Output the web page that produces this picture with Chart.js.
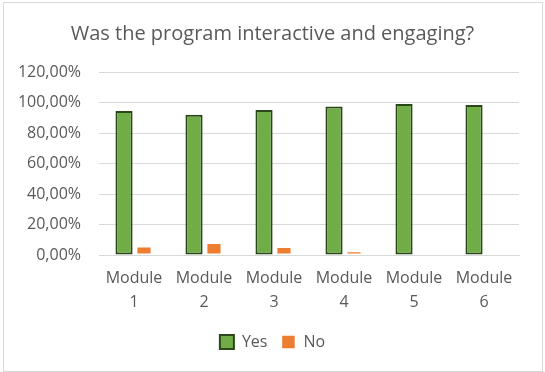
<!DOCTYPE html>
<html>
<head>
<meta charset="utf-8">
<script src="https://cdn.jsdelivr.net/npm/chart.js@4"></script>
<style>
  html, body { margin: 0; padding: 0; background: #fff; }
  #wrap { width: 545px; height: 372px; position: relative; }
</style>
</head>
<body>
<div id="wrap"><canvas id="chart" width="545" height="372"></canvas></div>
<script>
var modules = [["Module", "1"], ["Module", "2"], ["Module", "3"], ["Module", "4"], ["Module", "5"], ["Module", "6"]];
var yesValues = [94.5, 92.0, 95.1, 97.3, 99.0, 98.4];
var noValues = [5.6, 7.8, 5.2, 2.4, 0, 0];

var textColor = '#595959';

// light gray frame round the whole chart, like the Excel chart area
var frame = {
    id: 'frame',
    beforeDraw: function(chart) {
        var ctx = chart.ctx;
        ctx.save();
        ctx.fillStyle = '#fff';
        ctx.fillRect(0, 0, chart.width, chart.height);
        ctx.strokeStyle = '#d9d9d9';
        ctx.lineWidth = 1;
        ctx.strokeRect(3.5, 2.5, 539, 369);
        ctx.restore();
    }
};

new Chart(document.getElementById('chart').getContext('2d'), {
    type: 'bar',
    data: {
        labels: modules,
        datasets: [{
            label: 'Yes',
            data: yesValues,
            backgroundColor: '#70ad47',
            borderColor: '#2a4719',
            borderWidth: 2,
            borderSkipped: false,
            barPercentage: 0.86,
            categoryPercentage: 0.57
        }, {
            label: 'No',
            data: noValues,
            backgroundColor: '#ed7d31',
            borderColor: '#ffffff',
            borderWidth: { left: 2, right: 2, top: 1, bottom: 1 },
            borderSkipped: false,
            barPercentage: 0.86,
            categoryPercentage: 0.57
        }]
    },
    options: {
        responsive: false,
        animation: false,
        layout: { padding: { left: 0, right: 0, top: 10, bottom: 12 } },
        plugins: {
            title: {
                display: true,
                text: 'Was the program interactive and engaging?',
                color: textColor,
                font: { family: 'Open Sans', size: 20, weight: 'normal' },
                padding: { top: 12, bottom: 26 }
            },
            legend: {
                position: 'bottom',
                labels: {
                    color: textColor,
                    font: { family: 'Open Sans', size: 16 },
                    boxWidth: 14,
                    boxHeight: 14,
                    padding: 14
                }
            },
            tooltip: { enabled: false }
        },
        scales: {
            x: {
                grid: { display: false, drawTicks: false },
                border: { color: '#d9d9d9', width: 1 },
                ticks: {
                    color: textColor,
                    font: { family: 'Open Sans', size: 16, lineHeight: 1.5 },
                    padding: 11,
                    maxRotation: 0
                },
                afterFit: function(scale) { scale.height -= 5; }
            },
            y: {
                min: 0,
                max: 120,
                ticks: {
                    stepSize: 20,
                    color: textColor,
                    font: { family: 'Open Sans', size: 16 },
                    padding: 18,
                    callback: function(v) { return v.toFixed(2).replace('.', ',') + '%'; }
                },
                grid: { color: '#d9d9d9', lineWidth: 1, drawTicks: false },
                border: { display: false },
                afterFit: function(scale) { scale.width = 99; }
            },
            // empty right-hand spacer so the title and legend stay centred on the page
            right: {
                position: 'right',
                grid: { display: false, drawTicks: false },
                border: { display: false },
                ticks: { display: false },
                afterFit: function(scale) { scale.width = 26; }
            }
        }
    },
    plugins: [frame]
});
</script>
</body>
</html>
